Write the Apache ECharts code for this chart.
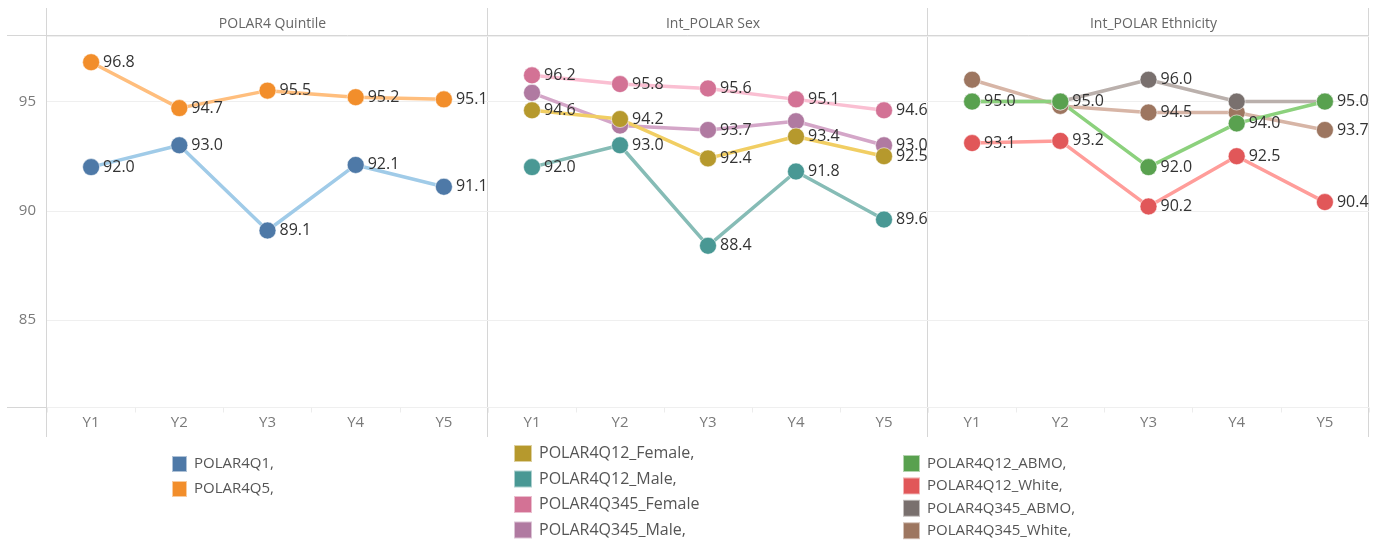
<!DOCTYPE html>
<html>
<head>
<meta charset="utf-8">
<script src="https://cdn.jsdelivr.net/npm/echarts@6/dist/echarts.min.js"></script>
<style>
  html, body { margin: 0; padding: 0; background: #ffffff; }
  #chart { width: 1380px; height: 541px; }
</style>
</head>
<body>
<div id="chart"></div>
<script>
// ---- data ----
const categories = ['Y1', 'Y2', 'Y3', 'Y4', 'Y5'];
const panelTitles = ['POLAR4 Quintile', 'Int_POLAR Sex', 'Int_POLAR Ethnicity'];
const yTickValues = [85, 90, 95];

const polar4Q1 = [92.0, 93.0, 89.1, 92.1, 91.1];
const polar4Q5 = [96.8, 94.7, 95.5, 95.2, 95.1];

const q12Female = [94.6, 94.2, 92.4, 93.4, 92.5];
const q12Male = [92.0, 93.0, 88.4, 91.8, 89.6];
const q345Female = [96.2, 95.8, 95.6, 95.1, 94.6];
const q345Male = [95.4, 93.9, 93.7, 94.1, 93.0];

const q12Abmo = [95.0, 95.0, 92.0, 94.0, 95.0];
const q12White = [93.1, 93.2, 90.2, 92.5, 90.4];
const q345Abmo = [95.0, 95.0, 96.0, 95.0, 95.0];
const q345White = [96.0, 94.8, 94.5, 94.5, 93.7];

// which value labels are visible (1 = shown)
const allLabels = [1, 1, 1, 1, 1];
const q345MaleLabels = [0, 0, 1, 0, 1];
const q345AbmoLabels = [0, 0, 1, 0, 0];
const q345WhiteLabels = [0, 0, 1, 0, 1];

// legend texts
const legend1Names = ['POLAR4Q1', 'POLAR4Q5'];
const legend2Names = ['POLAR4Q12_Female', 'POLAR4Q12_Male', 'POLAR4Q345_Female', 'POLAR4Q345_Male'];
const legend3Names = ['POLAR4Q12_ABMO', 'POLAR4Q12_White', 'POLAR4Q345_ABMO', 'POLAR4Q345_White'];
const legendTexts = {
  'POLAR4Q1': 'POLAR4Q1,', 'POLAR4Q5': 'POLAR4Q5,',
  'POLAR4Q12_Female': 'POLAR4Q12_Female,', 'POLAR4Q12_Male': 'POLAR4Q12_Male,',
  'POLAR4Q345_Female': 'POLAR4Q345_Female', 'POLAR4Q345_Male': 'POLAR4Q345_Male,',
  'POLAR4Q12_ABMO': 'POLAR4Q12_ABMO,', 'POLAR4Q12_White': 'POLAR4Q12_White,',
  'POLAR4Q345_ABMO': 'POLAR4Q345_ABMO,', 'POLAR4Q345_White': 'POLAR4Q345_White,'
};

// ---- layout / style ----
const FONT = "'Open Sans', 'Noto Sans', sans-serif";
const panelLeft = [47, 488, 928];
const panelWidth = [441, 440, 441];
const gridTop = 36;
const gridHeight = 371.5;
const frameColor = '#d6d6d6';

function makeSeries(name, data, gridIndex, dark, light, shown) {
  return {
    name: name,
    type: 'line',
    xAxisIndex: gridIndex,
    yAxisIndex: gridIndex,
    data: data,
    symbol: 'circle',
    symbolSize: 17,
    lineStyle: { color: light, width: 3.5 },
    itemStyle: { color: dark, borderColor: 'rgba(255,255,255,0.55)', borderWidth: 1 },
    label: {
      show: true,
      position: 'right',
      distance: 3,
      fontFamily: FONT,
      fontSize: 16,
      color: '#333333',
      formatter: function (p) { return shown[p.dataIndex] ? p.value.toFixed(1) : ''; }
    },
    emphasis: { disabled: true },
    animation: false
  };
}

const grids = [], xAxes = [], yAxes = [], titles = [];
for (let i = 0; i < 3; i++) {
  grids.push({ left: panelLeft[i], top: gridTop, width: panelWidth[i], height: gridHeight });
  xAxes.push({
    type: 'category', gridIndex: i, data: categories, boundaryGap: true,
    axisLine: { show: false },
    axisTick: { show: true, length: 5, lineStyle: { color: '#ececec' } },
    axisLabel: { color: '#7a7a7a', fontFamily: FONT, fontSize: 15, margin: 8 }
  });
  yAxes.push({
    type: 'value', gridIndex: i, min: 81, max: 98, splitNumber: 3,
    minInterval: 5, maxInterval: 5,
    axisLine: { show: false }, axisTick: { show: false },
    splitLine: { show: true, lineStyle: { color: '#efefef', width: 1 } },
    axisLabel: {
      show: i === 0, color: '#7a7a7a', fontFamily: FONT, fontSize: 15, margin: 11,
      showMinLabel: false, showMaxLabel: false,
      formatter: function (v) { return yTickValues.indexOf(v) >= 0 ? String(v) : ''; }
    }
  });
  titles.push({
    text: panelTitles[i],
    left: panelLeft[i] + panelWidth[i] / 2,
    top: 12,
    textAlign: 'center',
    textStyle: { color: '#666666', fontFamily: FONT, fontSize: 14, fontWeight: 'normal' }
  });
}

const series = [
  makeSeries('POLAR4Q1', polar4Q1, 0, '#4e79a7', '#a0cbe8', allLabels),
  makeSeries('POLAR4Q5', polar4Q5, 0, '#f28e2b', '#ffbe7d', allLabels),
  makeSeries('POLAR4Q345_Male', q345Male, 1, '#b07aa1', '#d4a6c8', q345MaleLabels),
  makeSeries('POLAR4Q12_Male', q12Male, 1, '#499894', '#86bcb6', allLabels),
  makeSeries('POLAR4Q345_Female', q345Female, 1, '#d37295', '#fabfd2', allLabels),
  makeSeries('POLAR4Q12_Female', q12Female, 1, '#b6992d', '#f1ce63', allLabels),
  makeSeries('POLAR4Q345_White', q345White, 2, '#9d7660', '#d7b5a6', q345WhiteLabels),
  makeSeries('POLAR4Q345_ABMO', q345Abmo, 2, '#79706e', '#bab0ac', q345AbmoLabels),
  makeSeries('POLAR4Q12_White', q12White, 2, '#e15759', '#ff9d9a', allLabels),
  makeSeries('POLAR4Q12_ABMO', q12Abmo, 2, '#59a14f', '#8cd17d', allLabels)
];

function makeLegend(names, left, top, gap, fontSize, w, h) {
  return {
    data: names, orient: 'vertical', left: left, top: top, itemGap: gap,
    padding: 0, height: 120,
    icon: 'rect', itemWidth: w, itemHeight: h, selectedMode: false,
    formatter: function (n) { return legendTexts[n]; },
    textStyle: { color: '#555555', fontFamily: FONT, fontSize: fontSize, padding: [0, 0, 0, 2] }
  };
}

// frame lines (panel borders / header & axis rules)
const graphics = [];
const vx = [panelLeft[0], panelLeft[1], panelLeft[2], panelLeft[2] + panelWidth[2]];
vx.forEach(function (x) {
  graphics.push({ type: 'line', silent: true, z: 0,
    shape: { x1: Math.round(x) - 0.5, y1: 8, x2: Math.round(x) - 0.5, y2: 437 },
    style: { stroke: frameColor, lineWidth: 1 } });
});
[gridTop, gridTop + gridHeight].forEach(function (y) {
  graphics.push({ type: 'line', silent: true, z: 0,
    shape: { x1: 7, y1: Math.round(y) - 0.5, x2: vx[3] - 0.5, y2: Math.round(y) - 0.5 },
    style: { stroke: frameColor, lineWidth: 1 } });
});

const chart = echarts.init(document.getElementById('chart'), null, { renderer: 'canvas' });
chart.setOption({
  backgroundColor: '#ffffff',
  animation: false,
  title: titles,
  grid: grids,
  xAxis: xAxes,
  yAxis: yAxes,
  legend: [
    makeLegend(legend1Names, 171, 455, 7, 15, 15, 16),
    makeLegend(legend2Names, 513, 444, 6.5, 16, 18, 17),
    makeLegend(legend3Names, 902, 454, 3.4, 15, 17, 17)
  ],
  graphic: graphics,
  series: series
});
</script>
</body>
</html>
